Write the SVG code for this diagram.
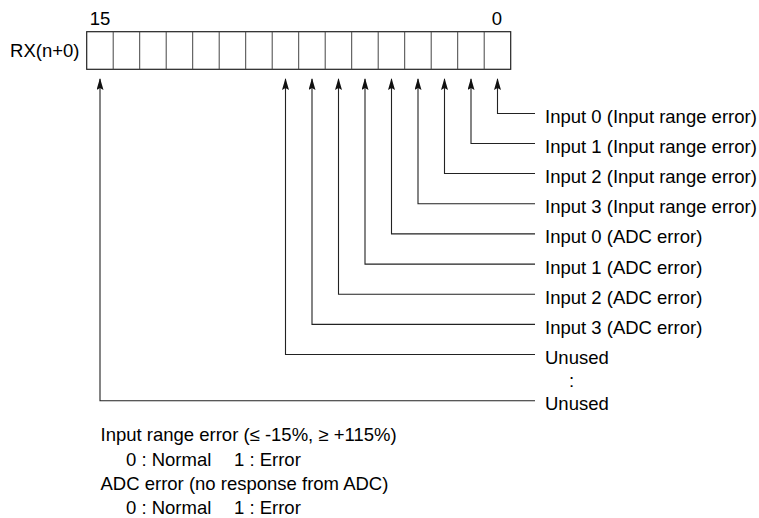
<svg xmlns="http://www.w3.org/2000/svg" width="759" height="518" viewBox="0 0 759 518">
<style>
text{font-family:"Liberation Sans",Arial,sans-serif;font-size:18.5px;fill:#000}
.c{fill:#fff;stroke:#222;stroke-width:1.2}
.d{stroke:#444;stroke-width:1}
.w{fill:none;stroke:#222;stroke-width:1.1}
</style>
<defs>
<marker id="ah" markerUnits="userSpaceOnUse" viewBox="0 0 12 7" refX="11" refY="3.5" markerWidth="12" markerHeight="7" orient="auto">
<path d="M0,0 L12,3.5 L0,7 L2,3.5 z" fill="#111"/>
</marker>
</defs>
<g id="register">
<text x="100" y="25" text-anchor="middle">15</text>
<text x="497" y="25" text-anchor="middle">0</text>
<text x="79.5" y="57" text-anchor="end">RX(n+0)</text>
<rect class="c" x="86.7" y="31.7" width="424" height="37.6"/>
<g class="d">
<line x1="113.2" y1="31.7" x2="113.2" y2="69.3"/>
<line x1="139.7" y1="31.7" x2="139.7" y2="69.3"/>
<line x1="166.2" y1="31.7" x2="166.2" y2="69.3"/>
<line x1="192.7" y1="31.7" x2="192.7" y2="69.3"/>
<line x1="219.2" y1="31.7" x2="219.2" y2="69.3"/>
<line x1="245.7" y1="31.7" x2="245.7" y2="69.3"/>
<line x1="272.2" y1="31.7" x2="272.2" y2="69.3"/>
<line x1="298.7" y1="31.7" x2="298.7" y2="69.3"/>
<line x1="325.2" y1="31.7" x2="325.2" y2="69.3"/>
<line x1="351.7" y1="31.7" x2="351.7" y2="69.3"/>
<line x1="378.2" y1="31.7" x2="378.2" y2="69.3"/>
<line x1="404.7" y1="31.7" x2="404.7" y2="69.3"/>
<line x1="431.2" y1="31.7" x2="431.2" y2="69.3"/>
<line x1="457.7" y1="31.7" x2="457.7" y2="69.3"/>
<line x1="484.2" y1="31.7" x2="484.2" y2="69.3"/>
</g>
</g>
<g id="connectors" class="w">
<path d="M535,113.5 H497.5 V79" marker-end="url(#ah)"/>
<path d="M535,143.5 H471 V79" marker-end="url(#ah)"/>
<path d="M535,173.5 H444.5 V79" marker-end="url(#ah)"/>
<path d="M535,203.8 H418 V79" marker-end="url(#ah)"/>
<path d="M535,233.9 H391.5 V79" marker-end="url(#ah)"/>
<path d="M535,264.1 H365 V79" marker-end="url(#ah)"/>
<path d="M535,294.2 H338.5 V79" marker-end="url(#ah)"/>
<path d="M535,324.4 H312 V79" marker-end="url(#ah)"/>
<path d="M535,354.5 H285.5 V79" marker-end="url(#ah)"/>
<path d="M535,400.7 H100 V79" marker-end="url(#ah)"/>
</g>
<g id="labels">
<text x="545" y="123">Input 0 (Input range error)</text>
<text x="545" y="153">Input 1 (Input range error)</text>
<text x="545" y="183">Input 2 (Input range error)</text>
<text x="545" y="213.3">Input 3 (Input range error)</text>
<text x="545" y="243.4">Input 0 (ADC error)</text>
<text x="545" y="273.6">Input 1 (ADC error)</text>
<text x="545" y="303.7">Input 2 (ADC error)</text>
<text x="545" y="333.9">Input 3 (ADC error)</text>
<text x="545" y="364">Unused</text>
<text x="571.5" y="387" text-anchor="middle">:</text>
<text x="545" y="410.2">Unused</text>
</g>
<g id="legend">
<text x="100.5" y="441">Input range error (≤ -15%, ≥ +115%)</text>
<text x="126" y="465.5">0 : Normal</text>
<text x="234" y="465.5">1 : Error</text>
<text x="100.5" y="490">ADC error (no response from ADC)</text>
<text x="126" y="514">0 : Normal</text>
<text x="234" y="514">1 : Error</text>
</g>
</svg>
